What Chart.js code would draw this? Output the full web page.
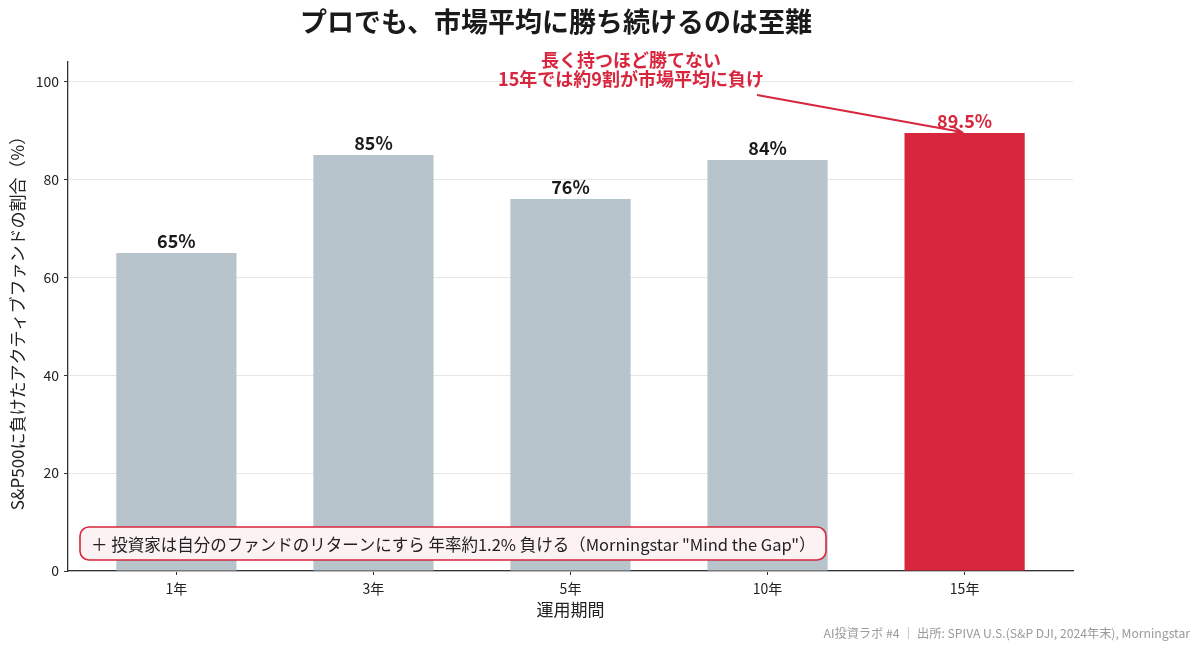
<!DOCTYPE html>
<html><head><meta charset="utf-8">
<script src="https://cdn.jsdelivr.net/npm/chart.js@4.4.1/dist/chart.umd.min.js"></script>
<style>html,body{margin:0;padding:0;background:#fff}#wrap{width:1200px;height:652px}</style>
</head><body><div id="wrap"><canvas id="c" width="1200" height="652"></canvas></div>
<script>
const categories = ['1年','3年','5年','10年','15年'];
const lossRates = [65, 85, 76, 84, 89.5];
const valueLabels = ['65%','85%','76%','84%','89.5%'];
const yTicks = [0,20,40,60,80,100];
const titleText = 'プロでも、市場平均に勝ち続けるのは至難';
const noteLines = ['長く持つほど勝てない','15年では約9割が市場平均に負け'];
const boxText = '＋ 投資家は自分のファンドのリターンにすら 年率約1.2% 負ける（Morningstar "Mind the Gap"）';
const footerText = 'AI投資ラボ #4 ｜ 出所: SPIVA U.S.(S&P DJI, 2024年末), Morningstar';
const xTitle = '運用期間';
const yTitle = 'S&P500に負けたアクティブファンドの割合（%）';

const FONT = '"Noto Sans CJK JP","Noto Sans",sans-serif';
const GRAY = '#b7c4cb', RED = '#d7263d', DARK = '#222';
Chart.defaults.font.family = FONT;
Chart.defaults.color = DARK;

const deco = {
  id:'deco',
  afterDraw(chart){
    const ctx = chart.ctx, xs = chart.scales.x, ys = chart.scales.y, ca = chart.chartArea;
    ctx.save();
    ctx.fillStyle = '#1a1a1a'; ctx.font = 'bold 27px '+FONT;
    ctx.textAlign='center'; ctx.textBaseline='middle';
    ctx.fillText(titleText, 556, 22);
    lossRates.forEach((v,i)=>{
      const x = xs.getPixelForValue(i), y = ys.getPixelForValue(v);
      ctx.fillStyle = i===4 ? RED : '#1a1a1a';
      ctx.font = 'bold 18px '+FONT; ctx.textAlign='center'; ctx.textBaseline='bottom';
      ctx.fillText(valueLabels[i], x, y-3);
    });
    ctx.fillStyle = DARK; ctx.font = '17px '+FONT; ctx.textBaseline='middle';
    ctx.fillText(xTitle, (ca.left+ca.right)/2, 610);
    ctx.save(); ctx.translate(18, 319); ctx.rotate(-Math.PI/2);
    ctx.fillText(yTitle, 0, 0); ctx.restore();
    ctx.fillStyle = RED; ctx.font = 'bold 18px '+FONT;
    ctx.fillText(noteLines[0], 631, 60);
    ctx.fillText(noteLines[1], 631, 79);
    const tx = xs.getPixelForValue(4) - 3, ty = ys.getPixelForValue(lossRates[4]) - 1;
    const sx = 757, sy = 95;
    ctx.strokeStyle = RED; ctx.lineWidth = 2;
    ctx.beginPath(); ctx.moveTo(sx,sy); ctx.lineTo(tx,ty); ctx.stroke();
    const ang = Math.atan2(ty-sy, tx-sx), L=11, W=0.38;
    ctx.beginPath();
    ctx.moveTo(tx - L*Math.cos(ang-W), ty - L*Math.sin(ang-W));
    ctx.lineTo(tx,ty);
    ctx.lineTo(tx - L*Math.cos(ang+W), ty - L*Math.sin(ang+W));
    ctx.stroke();
    const bx=80, by=527, bw=746, bh=33, r=9;
    ctx.beginPath(); ctx.roundRect(bx,by,bw,bh,r);
    ctx.fillStyle='#fdf2f3'; ctx.fill();
    ctx.strokeStyle=RED; ctx.lineWidth=1.6; ctx.stroke();
    ctx.fillStyle='#222'; ctx.font='16.5px '+FONT; ctx.textAlign='left';
    ctx.fillText(boxText, 91, by+bh/2+1);
    ctx.fillStyle='#9a9a9a'; ctx.font='12.2px '+FONT; ctx.textAlign='right';
    ctx.fillText(footerText, 1190, 633);
    ctx.restore();
  }
};

new Chart(document.getElementById('c'), {
  type:'bar',
  data:{ datasets:[{
    data:lossRates.map((v,i)=>({x:i, y:v})),
    backgroundColor: lossRates.map((v,i)=> i===4 ? RED : GRAY),
    borderWidth:0, barPercentage:0.61, categoryPercentage:1.0
  }]},
  options:{
    responsive:false, animation:false, devicePixelRatio:1,
    layout:{padding:{left:0,right:127,top:62,bottom:0}},
    plugins:{legend:{display:false}, tooltip:{enabled:false}},
    scales:{
      x:{
        type:'linear', min:-0.55, max:4.55, offset:false,
        afterBuildTicks(s){ s.ticks = categories.map((c,i)=>({value:i})); },
        grid:{offset:false, drawOnChartArea:false, tickColor:'#333', tickLength:4, lineWidth:1},
        border:{color:'#333', width:1.3},
        ticks:{font:{size:14}, color:DARK, padding:5, callback:(v)=>categories[v]},
        afterFit(s){ s.height = 81; }
      },
      y:{
        min:0, max:104,
        afterBuildTicks(s){ s.ticks = yTicks.map(v=>({value:v})); },
        grid:{color:'#e6e6e6', tickColor:'#333', tickLength:4, lineWidth:1},
        border:{color:'#333', width:1.3},
        ticks:{font:{size:14}, color:DARK, padding:5},
        afterFit(s){ s.width = 68; }
      }
    }
  },
  plugins:[deco]
});
</script></body></html>
